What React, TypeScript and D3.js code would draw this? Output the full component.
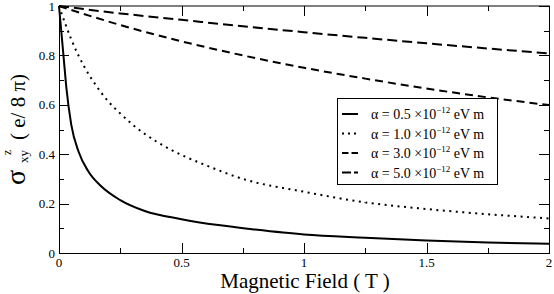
import React, { useRef, useEffect } from 'react';
import * as d3 from 'd3';

// magnetic field (T) and sigma_xy^z (e/8pi)
const fieldA05 = [0, 0.01, 0.02, 0.03, 0.05, 0.08, 0.12, 0.17, 0.25, 0.35, 0.5, 0.65, 0.8, 1.0, 1.25, 1.5, 1.75, 2.0];
const sigmaA05 = [1, 0.89, 0.78, 0.67, 0.52, 0.41, 0.33, 0.272, 0.214, 0.17, 0.137, 0.113, 0.095, 0.075, 0.062, 0.051, 0.043, 0.037];

const fieldA10 = [0, 0.025, 0.05, 0.1, 0.15, 0.2, 0.25, 0.3, 0.4, 0.5, 0.6, 0.75, 1.0, 1.25, 1.5, 1.75, 2.0];
const sigmaA10 = [1, 0.93, 0.865, 0.76, 0.68, 0.615, 0.565, 0.52, 0.45, 0.397, 0.355, 0.3, 0.248, 0.205, 0.178, 0.157, 0.14];

const fieldDashed = [0, 0.25, 0.5, 0.75, 1.0, 1.25, 1.5, 1.75, 2.0];
const sigmaA30 = [1, 0.923, 0.857, 0.8, 0.75, 0.706, 0.666, 0.63, 0.599];
const sigmaA50 = [1, 0.97, 0.944, 0.918, 0.894, 0.871, 0.849, 0.828, 0.808];

const xTicks = [0, 0.5, 1, 1.5, 2];
const xMinor = [0.25, 0.75, 1.25, 1.75];
const yTicks = [0, 0.2, 0.4, 0.6, 0.8, 1];
const yMinor = [0.1, 0.3, 0.5, 0.7, 0.9];

const legendValues = ['0.5', '1.0', '3.0', '5.0'];

const FONT = 'Liberation Serif, DejaVu Serif, serif';

const App = () => {
  const ref = useRef<SVGSVGElement>(null);

  useEffect(() => {
    const svg = d3.select(ref.current);
    svg.selectAll('*').remove();

    const left = 59, right = 549, top = 6, bottom = 253;
    const x = d3.scaleLinear().domain([0, 2]).range([left, right]);
    const y = d3.scaleLinear().domain([0, 1]).range([bottom, top]);

    const series = [
      { xs: fieldA05, ys: sigmaA05, dash: null },
      { xs: fieldA10, ys: sigmaA10, dash: '2,4.5' },
      { xs: fieldDashed, ys: sigmaA30, dash: '8,5' },
      { xs: fieldDashed, ys: sigmaA50, dash: '10,5' }
    ];

    series.forEach(s => {
      const pts = s.xs.map((v, i) => [x(v), y(s.ys[i])] as [number, number]);
      svg.append('path')
        .attr('d', d3.line().curve(d3.curveMonotoneX)(pts))
        .attr('fill', 'none')
        .attr('stroke', '#000')
        .attr('stroke-width', 2)
        .attr('stroke-dasharray', s.dash);
    });

    // frame
    svg.append('rect')
      .attr('x', left + 0.5).attr('y', top)
      .attr('width', right - left).attr('height', bottom - top + 0.5)
      .attr('fill', 'none').attr('stroke', '#000').attr('stroke-width', 1);

    const g = svg.append('g').attr('stroke', '#000').attr('stroke-width', 1);
    const tick = (x1, y1, x2, y2) => g.append('line')
      .attr('x1', x1).attr('y1', y1).attr('x2', x2).attr('y2', y2);

    xTicks.forEach(t => {
      const px = Math.round(x(t)) + 0.5;
      tick(px, bottom, px, bottom - 10);
      tick(px, top, px, top + 10);
    });
    xMinor.forEach(t => {
      const px = Math.round(x(t)) + 0.5;
      tick(px, bottom, px, bottom - 5);
      tick(px, top, px, top + 5);
    });
    yTicks.forEach(t => {
      const py = Math.round(y(t)) + 0.5;
      tick(left, py, left + 10, py);
      tick(right, py, right - 10, py);
    });
    yMinor.forEach(t => {
      const py = Math.round(y(t)) + 0.5;
      tick(left, py, left + 5, py);
      tick(right, py, right - 5, py);
    });

    // tick labels
    const fmt = d3.format('');
    svg.append('g').selectAll('text').data(xTicks).enter().append('text')
      .attr('x', d => x(d)).attr('y', 267)
      .attr('text-anchor', 'middle')
      .attr('font-family', FONT)
      .attr('font-size', 13)
      .text(d => fmt(d));
    svg.append('g').selectAll('text').data(yTicks).enter().append('text')
      .attr('x', 55).attr('y', d => y(d) + 4.5)
      .attr('text-anchor', 'end')
      .attr('font-family', FONT)
      .attr('font-size', 13)
      .text(d => fmt(d));

    // axis titles
    svg.append('text')
      .attr('x', 305).attr('y', 288)
      .attr('text-anchor', 'middle')
      .attr('font-family', FONT)
      .attr('font-size', 21)
      .text('Magnetic Field ( T )');

    const yl = svg.append('g')
      .attr('transform', 'translate(25,185) rotate(-90)')
      .attr('font-family', FONT);
    yl.append('text').attr('x', 0).attr('y', 0).attr('font-size', 28).text('σ');
    yl.append('text').attr('x', 22).attr('y', 3).attr('font-size', 13).text('xy');
    yl.append('text').attr('x', 30).attr('y', -14).attr('font-size', 12).text('z');
    yl.append('text').attr('x', 45).attr('y', 0).attr('font-size', 21).text('( e/ 8 π)');

    // legend
    const lg = svg.append('g').attr('font-family', FONT);
    lg.append('rect')
      .attr('x', 337.5).attr('y', 98.5).attr('width', 160).attr('height', 86)
      .attr('fill', '#fff').attr('stroke', '#000');
    legendValues.forEach((v, i) => {
      const yy = 114 + i * 19.5;
      lg.append('line')
        .attr('x1', 342).attr('x2', 358).attr('y1', yy).attr('y2', yy)
        .attr('stroke', '#000').attr('stroke-width', 2)
        .attr('stroke-dasharray', [null, '2,4', '6.5,3', '9,3'][i]);
      const t = lg.append('text')
        .attr('x', 371).attr('y', yy + 5)
        .attr('font-size', 14);
      t.append('tspan').text('α = ' + v + ' ×10');
      t.append('tspan').attr('dy', -6).attr('font-size', 9).text('−12');
      t.append('tspan').attr('dy', 6).text(' eV m');
    });
  }, []);

  return (
    <svg ref={ref} width={554} height={294}
      style={{ position: 'absolute', left: 0, top: 0, background: '#fff' }} />
  );
};

export default App;
